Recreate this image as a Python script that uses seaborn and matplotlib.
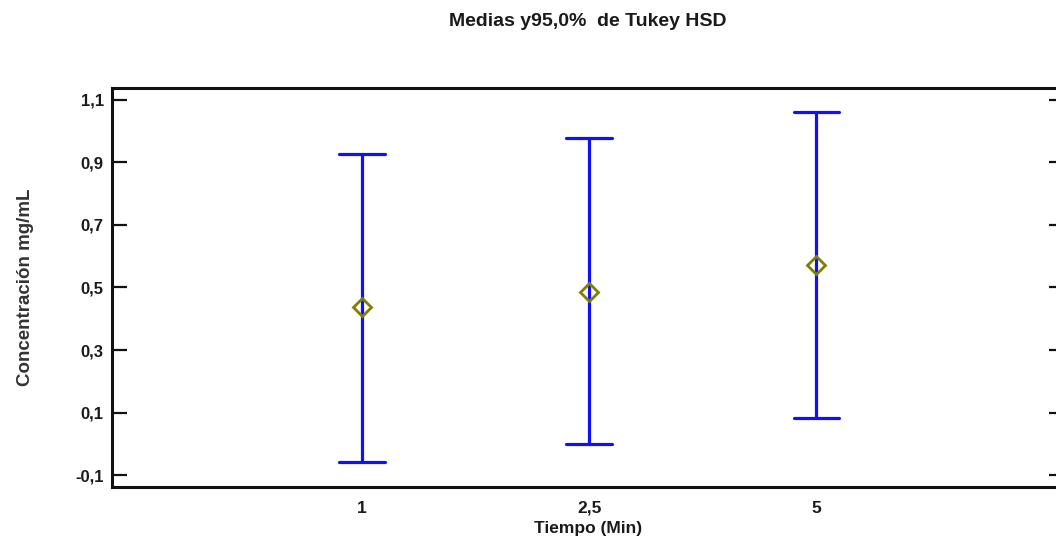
import numpy as np
import pandas as pd
import matplotlib
matplotlib.use("Agg")
import matplotlib.pyplot as plt
import seaborn as sns
from matplotlib.ticker import FixedLocator, FuncFormatter

# Data
tiempos = ["1", "2,5", "5"]
medias = [0.437, 0.487, 0.572]
limite_inferior = [-0.057, 0.000, 0.082]
limite_superior = [0.927, 0.977, 1.062]
yticks = [-0.1, 0.1, 0.3, 0.5, 0.7, 0.9, 1.1]

title = "Medias y95,0%  de Tukey HSD"
xlabel = "Tiempo (Min)"
ylabel = "Concentración mg/mL"

# Long table: median of (lower, mean, upper) = mean, 100% interval = [lower, upper]
rows = []
for t, lo, m, hi in zip(tiempos, limite_inferior, medias, limite_superior):
    for v in (lo, m, hi):
        rows.append({"Tiempo": t, "Conc": v})
df = pd.DataFrame(rows)

sns.set_style("white")
plt.rcParams["font.family"] = ["Liberation Sans", "DejaVu Sans"]

fig = plt.figure(figsize=(10.56, 5.47), dpi=100)
ax = fig.add_axes([112 / 1056, 1 - 487 / 547, (1064 - 112) / 1056, (487 - 88) / 547])

sns.pointplot(
    data=df, x="Tiempo", y="Conc", order=tiempos,
    estimator="median", errorbar=("pi", 100),
    linestyle="none", marker="D", markersize=9.5,
    color="#808000", markerfacecolor="none", markeredgecolor="#808000",
    markeredgewidth=2.0,
    capsize=0.2,
    err_kws={"color": "#1010ff", "linewidth": 2.3},
    ax=ax,
)
for line in ax.lines:
    if line.get_marker() == "D":
        line.set_zorder(5)

ax.set_xlim(-1.10, 3.09)
ax.set_ylim(-0.138, 1.138)
ax.yaxis.set_major_locator(FixedLocator(yticks))
ax.yaxis.set_major_formatter(FuncFormatter(lambda v, p: f"{v:.1f}".replace(".", ",")))

for side in ["top", "left", "bottom"]:
    ax.spines[side].set_visible(True)
    ax.spines[side].set_linewidth(2.2)
    ax.spines[side].set_color("#111111")
ax.spines["right"].set_visible(False)

ax.tick_params(axis="y", which="both", direction="in", left=True, right=True,
               length=11, width=1.6, color="#111111", labelsize=12, pad=6)
ax.tick_params(axis="x", which="both", length=0, labelsize=12.5, pad=10)
for lab in ax.get_yticklabels() + ax.get_xticklabels():
    lab.set_fontweight("bold")
    lab.set_color("#1a1a1a")

ax.set_xlabel(xlabel, fontsize=12.5, fontweight="bold", labelpad=4, color="#1a1a1a")
ax.set_ylabel(ylabel, fontsize=13.5, fontweight="bold", labelpad=30, color="#333333")
fig.text((112 + 1064) / 2 / 1056, 1 - 21 / 547, title, ha="center", va="center",
         fontsize=14, fontweight="bold", color="#1a1a1a")

fig.savefig("out.png", dpi=100)
